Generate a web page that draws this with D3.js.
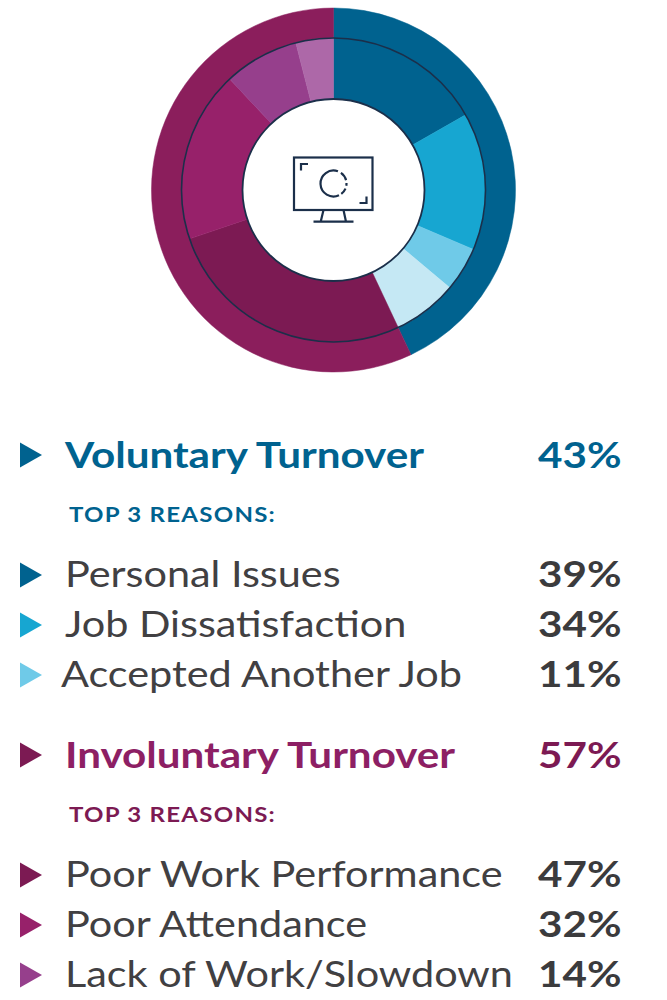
<!DOCTYPE html>
<html>
<head>
<meta charset="utf-8">
<script src="https://cdn.jsdelivr.net/npm/d3@7"></script>
<style>
  html, body { margin: 0; padding: 0; background: #fff; }
  svg { display: block; }
  text { font-family: Lato, "Open Sans", sans-serif; }
</style>
</head>
<body>
<svg width="667" height="1000"></svg>
<script>
// --- Data ---
const groups = ["Voluntary Turnover", "Involuntary Turnover"];
const groupValues = [43, 57];
const groupColors = ["#00628f", "#8b1e5c"];
const groupDark = ["#00628f", "#7c1a53"];

const volReasons = ["Personal Issues", "Job Dissatisfaction", "Accepted Another Job"];
const volValues = [39, 34, 11];
const volColors = ["#00628f", "#17a6d1", "#6fcae8", "#c5e8f4"];

const invReasons = ["Poor Work Performance", "Poor Attendance", "Lack of Work/Slowdown"];
const invValues = [47, 32, 14];
const invColors = ["#7c1a53", "#97216a", "#963f8c", "#ad68a8"];

const subtitle = "TOP 3 REASONS:";

const svg = d3.select("svg");
const cx = 333.5, cy = 190;
const navy = "#1b2f4a";

// --- Donut ---
const pie = d3.pie().sort(null).value(d => d.v);
const outerArc = d3.arc().innerRadius(151).outerRadius(182);
const innerArc = d3.arc().innerRadius(91).outerRadius(152);

const chart = svg.append("g").attr("transform", `translate(${cx},${cy})`);

const outerData = groups.map((g, i) => ({ name: g, v: groupValues[i], color: groupColors[i] }));
chart.selectAll("path.outer").data(pie(outerData)).enter().append("path")
  .attr("class", "outer")
  .attr("d", outerArc)
  .attr("fill", d => d.data.color)
  .attr("stroke", d => d.data.color)
  .attr("stroke-width", 0.5);

// inner ring: each group's share split by its reasons plus the remainder
function splitGroup(total, values, colors) {
  const rest = 100 - d3.sum(values);
  return values.concat([rest]).map((v, i) => ({ v: total * v / 100, color: colors[i] }));
}
const innerData = splitGroup(groupValues[0], volValues, volColors)
  .concat(splitGroup(groupValues[1], invValues, invColors));
chart.selectAll("path.inner").data(pie(innerData)).enter().append("path")
  .attr("class", "inner")
  .attr("d", innerArc)
  .attr("fill", d => d.data.color)
  .attr("stroke", d => d.data.color)
  .attr("stroke-width", 0.5);

chart.append("circle").attr("r", 152).attr("fill", "none").attr("stroke", navy).attr("stroke-width", 1.6);
chart.append("circle").attr("r", 91).attr("fill", "#fff").attr("stroke", navy).attr("stroke-width", 1.8);

// --- Monitor icon ---
const icon = chart.append("g").attr("fill", "none").attr("stroke", navy).attr("stroke-width", 2.2);
icon.append("rect").attr("x", -39.5).attr("y", -32.5).attr("width", 78.5).attr("height", 52.5);
icon.append("path").attr("d", "M-32.5,-19.5 V-26 H-25.5");
icon.append("path").attr("d", "M33,6.5 V13 H26");
icon.append("path").attr("d", "M-10,20 L-12.8,31.7 M10,20 L12.5,31.7 M-20,31.7 H20");
const dashArc = d3.arc().innerRadius(13).outerRadius(13);
const dashes = [[155, 380], [35, 75], [88, 100], [113, 143]];
icon.selectAll("path.dash").data(dashes).enter().append("path")
  .attr("class", "dash")
  .attr("transform", "translate(0,-6.5)")
  .attr("d", d => dashArc({ startAngle: d[0] * Math.PI / 180, endAngle: d[1] * Math.PI / 180 }));

// --- Legend text ---
const textGray = "#414042";
const pctGray = "#3b3b3d";
const sections = [
  { title: groups[0], value: groupValues[0], color: groupColors[0], dark: groupDark[0], reasons: volReasons, values: volValues, colors: volColors, top: 468 },
  { title: groups[1], value: groupValues[1], color: "#8d1f64", dark: groupDark[1], reasons: invReasons, values: invValues, colors: invColors, top: 768 }
];

function triangle(g, y, color) {
  g.append("path")
    .attr("d", `M20,${y - 12.5} L42,${y} L20,${y + 12.5} Z`)
    .attr("fill", color);
}

// Lato runs narrower than the original face, so widen text horizontally
function label(g, x, y, sx) {
  return g.append("text").attr("transform", `translate(${x},${y}) scale(${sx},1)`);
}

sections.forEach(s => {
  const g = svg.append("g");
  triangle(g, s.top - 13, s.dark);
  label(g, 65, s.top, 1.14)
    .attr("font-size", 37).attr("font-weight", 700).attr("fill", s.color)
    .text(s.title);
  label(g, 538, s.top, 1.14)
    .attr("font-size", 37).attr("font-weight", 700).attr("fill", s.dark)
    .text(s.value + "%");
  label(g, 69, s.top + 54, 1.12)
    .attr("font-size", 21.5).attr("font-weight", 700).attr("letter-spacing", 1.1).attr("fill", s.dark)
    .text(subtitle);
  s.reasons.forEach((r, i) => {
    const y = s.top + 119 + i * 50;
    triangle(g, y - 12, s.colors[i]);
    label(g, i === 2 && s.top < 600 ? 61 : 65, y, 1.15)
      .attr("font-size", 36).attr("fill", textGray)
      .text(r);
    label(g, 538, y, 1.14)
      .attr("font-size", 37).attr("font-weight", 700).attr("fill", pctGray)
      .text(s.values[i] + "%");
  });
});
</script>
</body>
</html>
